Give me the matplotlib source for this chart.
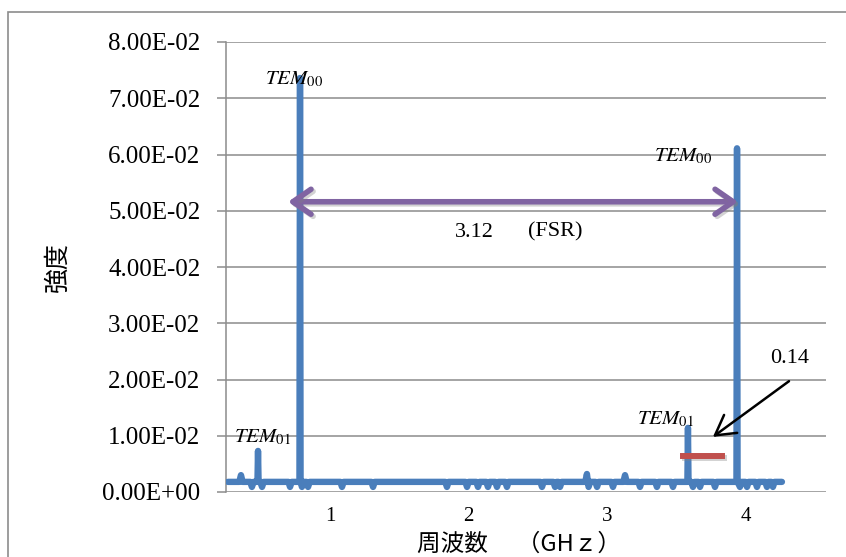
import matplotlib
matplotlib.use("Agg")
import matplotlib.pyplot as plt
import matplotlib.patheffects as pe
from matplotlib.ticker import FuncFormatter
from matplotlib.patches import Rectangle

plt.rcParams['mathtext.fontset'] = 'stix'

# ---- data (GHz, intensity) ----
freq_ghz = [
    0.263, 0.345, 0.357, 0.369, 0.424, 0.436, 0.448, 0.476, 0.480, 0.484,
    0.497, 0.509, 0.521, 0.699, 0.711, 0.723, 0.779, 0.783, 0.787, 0.797,
    0.809, 0.829, 0.841, 0.853, 1.074, 1.086, 1.098, 1.298, 1.310, 1.322,
    1.831, 1.843, 1.855, 1.976, 1.988, 2.000, 2.055, 2.067, 2.079, 2.127,
    2.139, 2.151, 2.192, 2.204, 2.216, 2.264, 2.276, 2.288, 2.517, 2.529,
    2.541, 2.611, 2.623, 2.635, 2.647, 2.659, 2.671, 2.841, 2.853, 2.865,
    2.877, 2.914, 2.926, 2.938, 3.029, 3.041, 3.053, 3.116, 3.128, 3.140,
    3.224, 3.236, 3.248, 3.346, 3.358, 3.370, 3.462, 3.474, 3.486, 3.578,
    3.582, 3.586, 3.606, 3.618, 3.630, 3.657, 3.669, 3.681, 3.765, 3.777,
    3.789, 3.932, 3.936, 3.940, 3.957, 3.969, 3.996, 4.008, 4.020, 4.068,
    4.080, 4.092, 4.140, 4.152, 4.164, 4.183, 4.195, 4.207, 4.260,
]
intensity = [
    0.0018, 0.0018, 0.0030, 0.0018, 0.0018, 0.0009, 0.0018, 0.0018, 0.0073, 0.0018,
    0.0018, 0.0009, 0.0018, 0.0018, 0.0009, 0.0018, 0.0018, 0.0736, 0.0018, 0.0009,
    0.0018, 0.0018, 0.0009, 0.0018, 0.0018, 0.0009, 0.0018, 0.0018, 0.0009, 0.0018,
    0.0018, 0.0009, 0.0018, 0.0018, 0.0009, 0.0018, 0.0018, 0.0009, 0.0018, 0.0018,
    0.0009, 0.0018, 0.0018, 0.0009, 0.0018, 0.0018, 0.0009, 0.0018, 0.0018, 0.0009,
    0.0018, 0.0018, 0.0009, 0.0018, 0.0018, 0.0009, 0.0018, 0.0018, 0.0032, 0.0009,
    0.0018, 0.0018, 0.0009, 0.0018, 0.0018, 0.0009, 0.0018, 0.0018, 0.0030, 0.0018,
    0.0018, 0.0009, 0.0018, 0.0018, 0.0009, 0.0018, 0.0018, 0.0009, 0.0018, 0.0018,
    0.0114, 0.0018, 0.0018, 0.0009, 0.0018, 0.0018, 0.0009, 0.0018, 0.0018, 0.0009,
    0.0018, 0.0018, 0.0611, 0.0018, 0.0009, 0.0018, 0.0018, 0.0009, 0.0018, 0.0018,
    0.0009, 0.0018, 0.0018, 0.0009, 0.0018, 0.0018, 0.0009, 0.0018, 0.0018,
]

x_ticks = [1, 2, 3, 4]
y_ticks = [0.00, 0.01, 0.02, 0.03, 0.04, 0.05, 0.06, 0.07, 0.08]

mode_labels = [r'$TEM_{00}$', r'$TEM_{00}$', r'$TEM_{01}$', r'$TEM_{01}$']
mode_x = [0.740, 3.547, 0.509, 3.416]
mode_y = [0.0734, 0.0597, 0.0098, 0.0130]

fsr_start, fsr_end, fsr_level = 0.697, 3.943, 0.0516
fsr_value = "3.12"
spacing_value = "0.14"
red_bar_x = [3.546, 3.828]
red_bar_y = [0.0064, 0.0064]

# ---- figure ----
W, H = 846, 557
fig = plt.figure(figsize=(W / 100, H / 100), dpi=100)
ax = fig.add_axes([226 / W, (H - 492) / H, 600 / W, 450 / H])

grid_c = '#8c8c8c'
blue = '#4A7EBB'

# outer border
fig.add_artist(Rectangle((8 / W, -0.05), 1.2, (H - 12) / H + 0.05,
                         transform=fig.transFigure, fill=False,
                         edgecolor='#8c8c8c', lw=1.2))

ax.plot(freq_ghz, intensity, color=blue, lw=4.6,
        solid_joinstyle='round', solid_capstyle='round', zorder=3)

ax.set_xlim(0.249, 4.578)
ax.set_ylim(0, 0.08)
ax.set_yticks(y_ticks)
ax.set_xticks(x_ticks)
ax.yaxis.set_major_formatter(FuncFormatter(lambda v, p: f"{v:.2E}"))
ax.set_xticklabels([str(t) for t in x_ticks])
ax.grid(axis='y', color=grid_c, lw=1.1)
ax.set_axisbelow(True)
for s in ['top', 'right', 'bottom']:
    ax.spines[s].set_visible(False)
ax.spines['left'].set_color(grid_c)
ax.spines['left'].set_linewidth(1.1)
ax.tick_params(axis='y', length=6.5, width=1.1, color=grid_c, pad=12,
               labelsize=18)
ax.tick_params(axis='x', length=0, pad=11, labelsize=15)
for lab in ax.get_yticklabels() + ax.get_xticklabels():
    lab.set_fontfamily('Liberation Serif')

ax.set_xlabel('周波数　 （GHｚ）', fontsize=17,
              fontfamily=['Noto Sans CJK JP', 'DejaVu Sans'])
ax.xaxis.set_label_coords(0.488, -0.115)
ax.xaxis.label.set_va('center')
ax.set_ylabel('強度', fontsize=18,
              fontfamily=['Noto Sans CJK JP', 'DejaVu Sans'])
ax.yaxis.set_label_coords(-0.28, 0.5)
ax.yaxis.label.set_va('center')

# mode labels
for lbl, mx, my in zip(mode_labels, mode_x, mode_y):
    ax.text(mx, my, lbl, fontsize=15, ha='center', va='center', zorder=5)

shadow = [pe.SimpleLineShadow(offset=(1.5, -1.5), alpha=0.35,
                              shadow_color='gray'), pe.Normal()]

# FSR double arrow
ax.annotate('', xy=(fsr_end, fsr_level), xytext=(fsr_start, fsr_level),
            arrowprops=dict(arrowstyle='<->, head_length=0.65, head_width=0.45',
                            color='#8064A2', lw=4, shrinkA=0, shrinkB=0,
                            mutation_scale=20, joinstyle='round',
                            capstyle='round', path_effects=shadow),
            zorder=4)
ax.text(2.038, 0.0462, fsr_value, fontsize=16, ha='center', va='center',
        fontfamily='Liberation Serif')
ax.text(2.623, 0.0462, '(FSR)', fontsize=16, ha='center', va='center',
        fontfamily='Liberation Serif')

# 0.14 annotation
ax.plot(red_bar_x, red_bar_y, color='#C0504D', lw=4.3, zorder=4,
        path_effects=shadow)
ax.annotate('', xy=(3.762, 0.0098), xytext=(4.311, 0.0197),
            arrowprops=dict(arrowstyle='->, head_length=0.7, head_width=0.4',
                            color='black', lw=1.8, shrinkA=0, shrinkB=0,
                            mutation_scale=20), zorder=5)
ax.text(4.318, 0.0238, spacing_value, fontsize=16, ha='center', va='center',
        fontfamily='Liberation Serif')

fig.savefig('out.png', dpi=100)
